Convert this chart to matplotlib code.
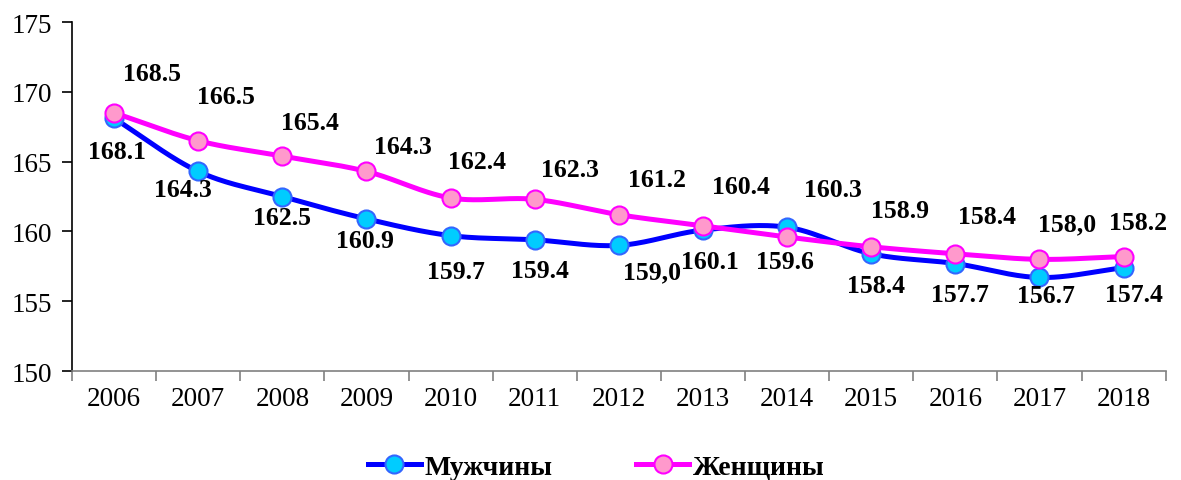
import numpy as np
import matplotlib
matplotlib.use("Agg")
import matplotlib.pyplot as plt
from matplotlib.lines import Line2D

years = ["2006", "2007", "2008", "2009", "2010", "2011", "2012",
         "2013", "2014", "2015", "2016", "2017", "2018"]
men = [168.1, 164.3, 162.5, 160.9, 159.7, 159.4, 159.0, 160.1, 160.3, 158.4, 157.7, 156.7, 157.4]
women = [168.5, 166.5, 165.4, 164.3, 162.4, 162.3, 161.2, 160.4, 159.6, 158.9, 158.4, 158.0, 158.2]
men_labels = ["168.1", "164.3", "162.5", "160.9", "159.7", "159.4", "159,0",
              "160.1", "160.3", "158.4", "157.7", "156.7", "157.4"]
women_labels = ["168.5", "166.5", "165.4", "164.3", "162.4", "162.3", "161.2",
                "160.4", "159.6", "158.9", "158.4", "158,0", "158.2"]

# label offsets in pixels (dx, dy) from each marker
men_off = [(3, -33), (-15, -18), (0, -21), (-2, -22), (5, -36), (5, -31), (33, -26),
           (7, -31), (46, 38), (5, -32), (5, -31), (6, -18), (10, -27)]
women_off = [(38, 39), (28, 44), (28, 34), (36, 25), (26, 36), (35, 30), (38, 35),
             (38, 39), (-2, -24), (29, 36), (32, 37), (28, 36), (14, 34)]

plt.rcParams['font.family'] = ['Liberation Serif', 'DejaVu Serif']

def catmull(xs, ys, n=30):
    xs = np.asarray(xs, float); ys = np.asarray(ys, float)
    px = np.concatenate([[2*xs[0]-xs[1]], xs, [2*xs[-1]-xs[-2]]])
    py = np.concatenate([[2*ys[0]-ys[1]], ys, [2*ys[-1]-ys[-2]]])
    outx, outy = [], []
    for i in range(1, len(px)-2):
        t = np.linspace(0, 1, n, endpoint=(i == len(px)-3))
        for arr, out in ((px, outx), (py, outy)):
            p0, p1, p2, p3 = arr[i-1], arr[i], arr[i+1], arr[i+2]
            out.extend(0.5*((2*p1) + (-p0+p2)*t + (2*p0-5*p1+4*p2-p3)*t**2 + (-p0+3*p1-3*p2+p3)*t**3))
    return np.array(outx), np.array(outy)

fig = plt.figure(figsize=(11.81, 4.81), dpi=100)
ax = fig.add_axes([0.061, 0.2266, 0.926, 0.7254])
x = np.arange(len(years))

men_line = "#0000FF"; men_face = "#00CCFF"; men_edge = "#3366FF"
wom_line = "#FF00FF"; wom_face = "#FF99CC"; wom_edge = "#FF00FF"

sx, sy = catmull(x, men)
ax.plot(sx, sy, color=men_line, lw=3.6, solid_capstyle='round', zorder=2)
ax.plot(x, men, 'o', ms=13, mfc=men_face, mec=men_edge, mew=1.5, zorder=3)
sx, sy = catmull(x, women)
ax.plot(sx, sy, color=wom_line, lw=3.6, solid_capstyle='round', zorder=4)
ax.plot(x, women, 'o', ms=13, mfc=wom_face, mec=wom_edge, mew=1.5, zorder=5)

for xi, v, lab, off in zip(x, men, men_labels, men_off):
    ax.annotate(lab, (xi, v), xytext=off, textcoords='offset pixels',
                ha='center', va='center', fontsize=18.5, fontweight='bold', zorder=6)
for xi, v, lab, off in zip(x, women, women_labels, women_off):
    ax.annotate(lab, (xi, v), xytext=off, textcoords='offset pixels',
                ha='center', va='center', fontsize=18.5, fontweight='bold', zorder=6)

ax.set_xlim(-0.5, len(years)-0.5)
ax.set_ylim(150, 175)
ax.set_yticks(np.arange(150, 176, 5))
ax.set_xticks(x)
ax.set_xticklabels(years)
ax.set_xticks(np.arange(-0.5, len(years)), minor=True)
ax.tick_params(axis='x', which='major', length=0, labelsize=19.5, pad=11)
ax.tick_params(axis='x', which='minor', length=7, color='#808080', width=1.2)
ax.tick_params(axis='y', length=7, width=1.2, labelsize=19.5, pad=7)
for s in ('top', 'right'):
    ax.spines[s].set_visible(False)
ax.spines['left'].set_color('black')
ax.spines['left'].set_linewidth(1.2)
ax.spines['bottom'].set_color('#808080')
ax.spines['bottom'].set_linewidth(1.2)

handles = [Line2D([], [], color=men_line, lw=3.6, marker='o', ms=13, mfc=men_face, mec=men_edge, mew=1.5),
           Line2D([], [], color=wom_line, lw=3.6, marker='o', ms=13, mfc=wom_face, mec=wom_edge, mew=1.5)]
fig.legend(handles, ["Мужчины", "Женщины"], loc='center', bbox_to_anchor=(0.505, 0.027),
           ncol=2, frameon=False, prop={'size': 20, 'weight': 'bold'},
           handlelength=1.9, handletextpad=0.15, columnspacing=3.0)

fig.savefig("out.png", dpi=100)
